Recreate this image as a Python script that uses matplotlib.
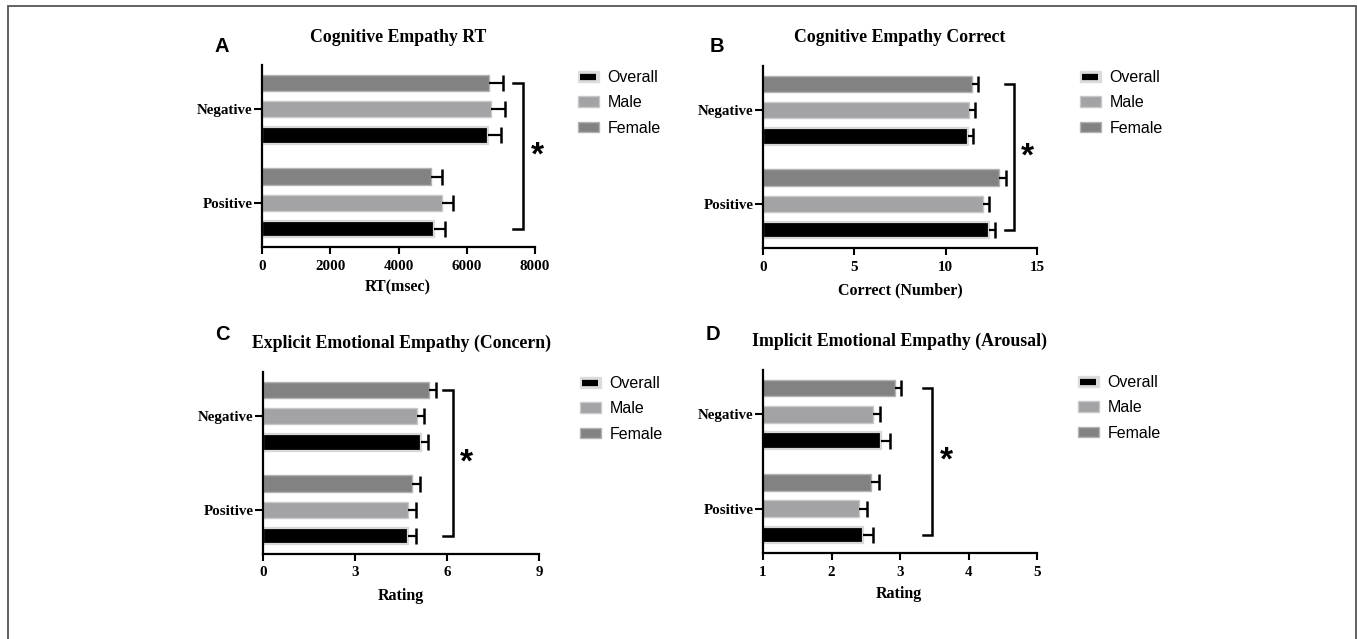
import matplotlib.pyplot as plt
import matplotlib.patches as mpatches
from matplotlib.lines import Line2D
from matplotlib.legend_handler import HandlerTuple
import numpy as np

W, H = 1357, 639

groups = ["Negative", "Positive"]
series = ["Female", "Male", "Overall"]  # top to bottom inside each group

# panel A: cognitive empathy RT (msec)
rt_vals = {"Female": [6657, 4946], "Male": [6715, 5270], "Overall": [6620, 5050]}
rt_err = {"Female": [410, 320], "Male": [410, 330], "Overall": [380, 320]}
# panel B: cognitive empathy correct
cor_vals = {"Female": [11.42, 12.94], "Male": [11.26, 12.04], "Overall": [11.2, 12.35]}
cor_err = {"Female": [0.35, 0.34], "Male": [0.34, 0.34], "Overall": [0.3, 0.35]}
# panel C: explicit emotional empathy (concern)
con_vals = {"Female": [5.41, 4.87], "Male": [5.03, 4.74], "Overall": [5.14, 4.72]}
con_err = {"Female": [0.23, 0.24], "Male": [0.23, 0.24], "Overall": [0.25, 0.26]}
# panel D: implicit emotional empathy (arousal)
aro_vals = {"Female": [2.92, 2.57], "Male": [2.60, 2.40], "Overall": [2.72, 2.46]}
aro_err = {"Female": [0.10, 0.12], "Male": [0.11, 0.12], "Overall": [0.14, 0.14]}

colors = {"Female": "#828282", "Male": "#a3a3a6", "Overall": "#000000"}
edges = {"Female": "#b4b4b4", "Male": "#c8c8ca", "Overall": "#d8d8d8"}
offsets = {"Female": -0.28, "Male": 0.0, "Overall": 0.28}

serif = "Liberation Serif"
sans = "Liberation Sans"


def px(x, y):
    return x / W, 1 - y / H


fig = plt.figure(figsize=(W / 100, H / 100), dpi=100)

# outer frame
fig.patches.append(mpatches.Rectangle(px(8, 645), (1356 - 8) / W, (645 - 6) / H,
                                      transform=fig.transFigure, fill=False,
                                      edgecolor="#555555", linewidth=1.3))


def panel(rect, vals, errs, xlim, xticks, title, xlabel, letter, title_xy,
          label_xy, letter_xy, bracket_x, leg_xy):
    l, t, r, b = rect
    ax = fig.add_axes([l / W, 1 - b / H, (r - l) / W, (b - t) / H])
    ypos = np.arange(len(groups))
    for s in series:
        ax.barh(ypos + offsets[s], vals[s], height=0.175, color=colors[s],
                edgecolor=edges[s], linewidth=1.6 if s == "Overall" else 1.0,
                zorder=2)
        ends = np.array(vals[s]) + np.array(errs[s])
        ax.hlines(ypos + offsets[s], vals[s], ends, color="k", lw=1.6, zorder=3)
        ax.plot(ends, ypos + offsets[s], ls="none", marker="|", ms=11,
                mew=1.8, color="k", zorder=3, clip_on=False)
    ax.set_xlim(*xlim)
    ax.set_ylim(1 + 0.28 + 0.19, -0.28 - 0.19)
    ax.set_xticks(xticks)
    ax.set_yticks(ypos)
    ax.set_yticklabels(groups)
    for lab in ax.get_xticklabels() + ax.get_yticklabels():
        lab.set_fontfamily(serif)
        lab.set_fontweight("bold")
        lab.set_fontsize(10.8)
    ax.tick_params(axis="x", width=1.5, length=5, pad=4)
    ax.tick_params(axis="y", width=1.5, length=6, pad=1)
    for sp in ["top", "right"]:
        ax.spines[sp].set_visible(False)
    for sp in ["left", "bottom"]:
        ax.spines[sp].set_linewidth(1.6)

    # significance bracket
    x0, x1 = bracket_x
    y0, y1 = ypos[0] + offsets["Female"], ypos[1] + offsets["Overall"]
    ax.plot([x0, x1, x1, x0], [y0, y0, y1, y1], color="k", lw=1.8,
            clip_on=False, solid_joinstyle="miter")
    ax.annotate("*", xy=(x1, (y0 + y1) / 2), xytext=(10, 0),
                textcoords="offset points", ha="center", va="center",
                fontsize=24, fontweight="bold", fontfamily=sans,
                annotation_clip=False)

    fig.text(*px(*title_xy), title, ha="center", va="center",
             fontfamily=serif, fontweight="bold", fontsize=12.8)
    fig.text(*px(*label_xy), xlabel, ha="center", va="center",
             fontfamily=serif, fontweight="bold", fontsize=11.5)
    fig.text(*px(*letter_xy), letter, ha="center", va="center",
             fontfamily=sans, fontweight="bold", fontsize=14.5)

    handles = [(mpatches.Patch(facecolor="#dcdcdc", edgecolor="#dcdcdc"),
                Line2D([], [], ls="none", marker="_", ms=11, mew=4.5, color="k")),
               mpatches.Patch(facecolor=colors["Male"], edgecolor=edges["Male"]),
               mpatches.Patch(facecolor=colors["Female"], edgecolor=edges["Female"])]
    fig.legend(handles, ["Overall", "Male", "Female"],
               handler_map={tuple: HandlerTuple(ndivide=1, pad=0)},
               loc="upper left", bbox_to_anchor=px(*leg_xy),
               bbox_transform=fig.transFigure, frameon=False, numpoints=1,
               prop={"family": sans, "size": 11.5}, handlelength=1.3,
               handleheight=0.65, handletextpad=0.55, labelspacing=0.65,
               borderpad=0, borderaxespad=0)
    return ax


panel((262, 65, 535, 247), rt_vals, rt_err, (0, 8000), [0, 2000, 4000, 6000, 8000],
      "Cognitive Empathy RT", "RT(msec)", "A", (398, 37), (398, 287), (222, 47),
      (7360, 7650), (578, 70))
panel((763, 66, 1037, 248), cor_vals, cor_err, (0, 15), [0, 5, 10, 15],
      "Cognitive Empathy Correct", "Correct (Number)", "B", (900, 37), (900, 290),
      (717, 47), (13.25, 13.74), (1080, 70))
panel((263, 372, 539, 554), con_vals, con_err, (0, 9), [0, 3, 6, 9],
      "Explicit Emotional Empathy (Concern)", "Rating", "C", (401, 343),
      (401, 596), (222, 335), (5.87, 6.19), (580, 376))
panel((763, 370, 1037, 553), aro_vals, aro_err, (1, 5), [1, 2, 3, 4, 5],
      "Implicit Emotional Empathy (Arousal)", "Rating", "D", (899, 341),
      (899, 594), (713, 334), (3.34, 3.47), (1078, 375))

fig.savefig("out.png", dpi=100)
